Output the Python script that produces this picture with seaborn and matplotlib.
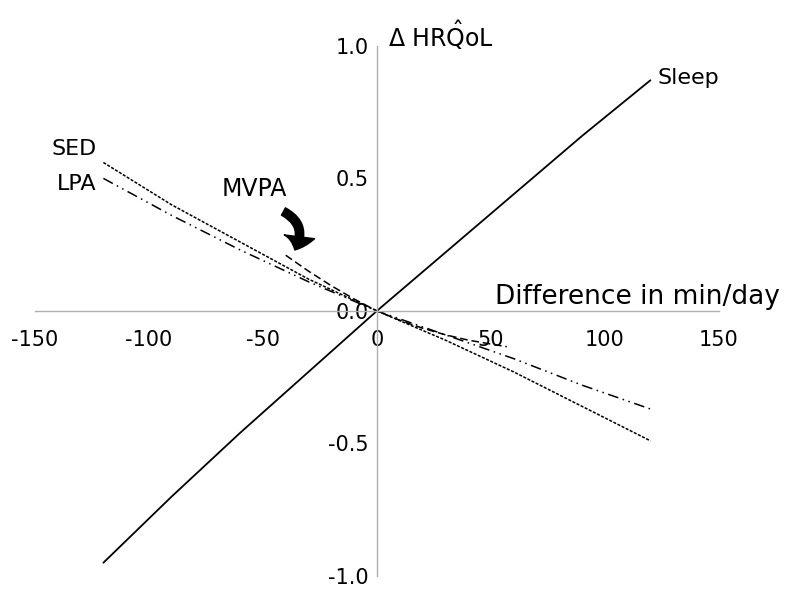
import pandas as pd
import matplotlib.pyplot as plt
import seaborn as sns

# values (difference in min/day vs change in HRQoL)
minutes = [-120, -90, -60, -30, 0, 30, 60, 90, 120]
sleep = [-0.95, -0.70, -0.46, -0.23, 0.0, 0.22, 0.44, 0.66, 0.87]
sed = [0.56, 0.40, 0.26, 0.12, 0.0, -0.11, -0.23, -0.36, -0.49]
lpa = [0.50, 0.36, 0.23, 0.11, 0.0, -0.09, -0.18, -0.28, -0.37]

mvpa_minutes = [-40, -30, -20, -10, 0, 10, 20, 30, 40, 50, 57]
mvpa = [0.21, 0.15, 0.095, 0.045, 0.0, -0.035, -0.065, -0.09, -0.11, -0.125, -0.135]

x_ticks = [-150, -100, -50, 0, 50, 100, 150]
y_ticks = [-1.0, -0.5, 0.0, 0.5, 1.0]

sns.set_style('white')
plt.rcParams['font.family'] = ['DejaVu Sans']
plt.rcParams['mathtext.fontset'] = 'dejavusans'
plt.rcParams['text.color'] = 'black'
plt.rcParams['xtick.color'] = 'black'
plt.rcParams['ytick.color'] = 'black'

fig = plt.figure(figsize=(7.85, 5.93), dpi=100)
ax = fig.add_axes([0.0446, 0.0287, 0.871, 0.894])

df = pd.DataFrame({'min': minutes, 'Sleep': sleep, 'SED': sed, 'LPA': lpa})
df_mvpa = pd.DataFrame({'min': mvpa_minutes, 'MVPA': mvpa})

sns.lineplot(data=df, x='min', y='Sleep', color='black', lw=1.3, ax=ax)
sns.lineplot(data=df, x='min', y='SED', color='black', lw=1.1, ls=(0, (2, 1)), ax=ax)
sns.lineplot(data=df, x='min', y='LPA', color='black', lw=1.1,
             ls=(0, (7, 3, 1, 3, 1, 3)), ax=ax)
sns.lineplot(data=df_mvpa, x='min', y='MVPA', color='black', lw=1.1,
             ls=(0, (5, 2.5)), ax=ax)

ax.set_xlim(-150, 150)
ax.set_ylim(-1.0, 1.0)

# axes through the origin
for side in ['top', 'right']:
    ax.spines[side].set_visible(False)
ax.spines['left'].set_position(('data', 0))
ax.spines['bottom'].set_position(('data', 0))
for side in ['left', 'bottom']:
    ax.spines[side].set_color('#b0b0b0')
    ax.spines[side].set_linewidth(1.0)

ax.set_xticks(x_ticks)
ax.set_xticklabels([str(t) for t in x_ticks])
ax.set_yticks(y_ticks)
ax.set_yticklabels([f'{t:.1f}' for t in y_ticks])
ax.tick_params(axis='x', length=0, pad=14, labelsize=15)
ax.tick_params(axis='y', length=0, pad=6, labelsize=15)
ax.set_xlabel('')
ax.set_ylabel('')

# axis titles
ax.text(5, 0.995, r'Δ HR$\hat{\mathrm{Q}}$oL', fontsize=17, ha='left', va='baseline',
        clip_on=False)
ax.text(177, 0.025, 'Difference in min/day', fontsize=19, ha='right', va='baseline',
        clip_on=False)

# series labels
ax.text(-123, 0.61, 'SED', fontsize=16, ha='right', va='center')
ax.text(-123, 0.48, 'LPA', fontsize=16, ha='right', va='center')
ax.text(123, 0.88, 'Sleep', fontsize=16, ha='left', va='center')
ax.text(-68, 0.46, 'MVPA', fontsize=17, ha='left', va='center')

ax.annotate('', xy=(-36, 0.23), xytext=(-41, 0.375),
            arrowprops=dict(arrowstyle='simple,head_width=1.1,head_length=0.5,tail_width=0.3',
                            mutation_scale=20, shrinkA=0, shrinkB=0,
                            connectionstyle='arc3,rad=-0.5', color='black'))

plt.savefig('out.png', dpi=100)
